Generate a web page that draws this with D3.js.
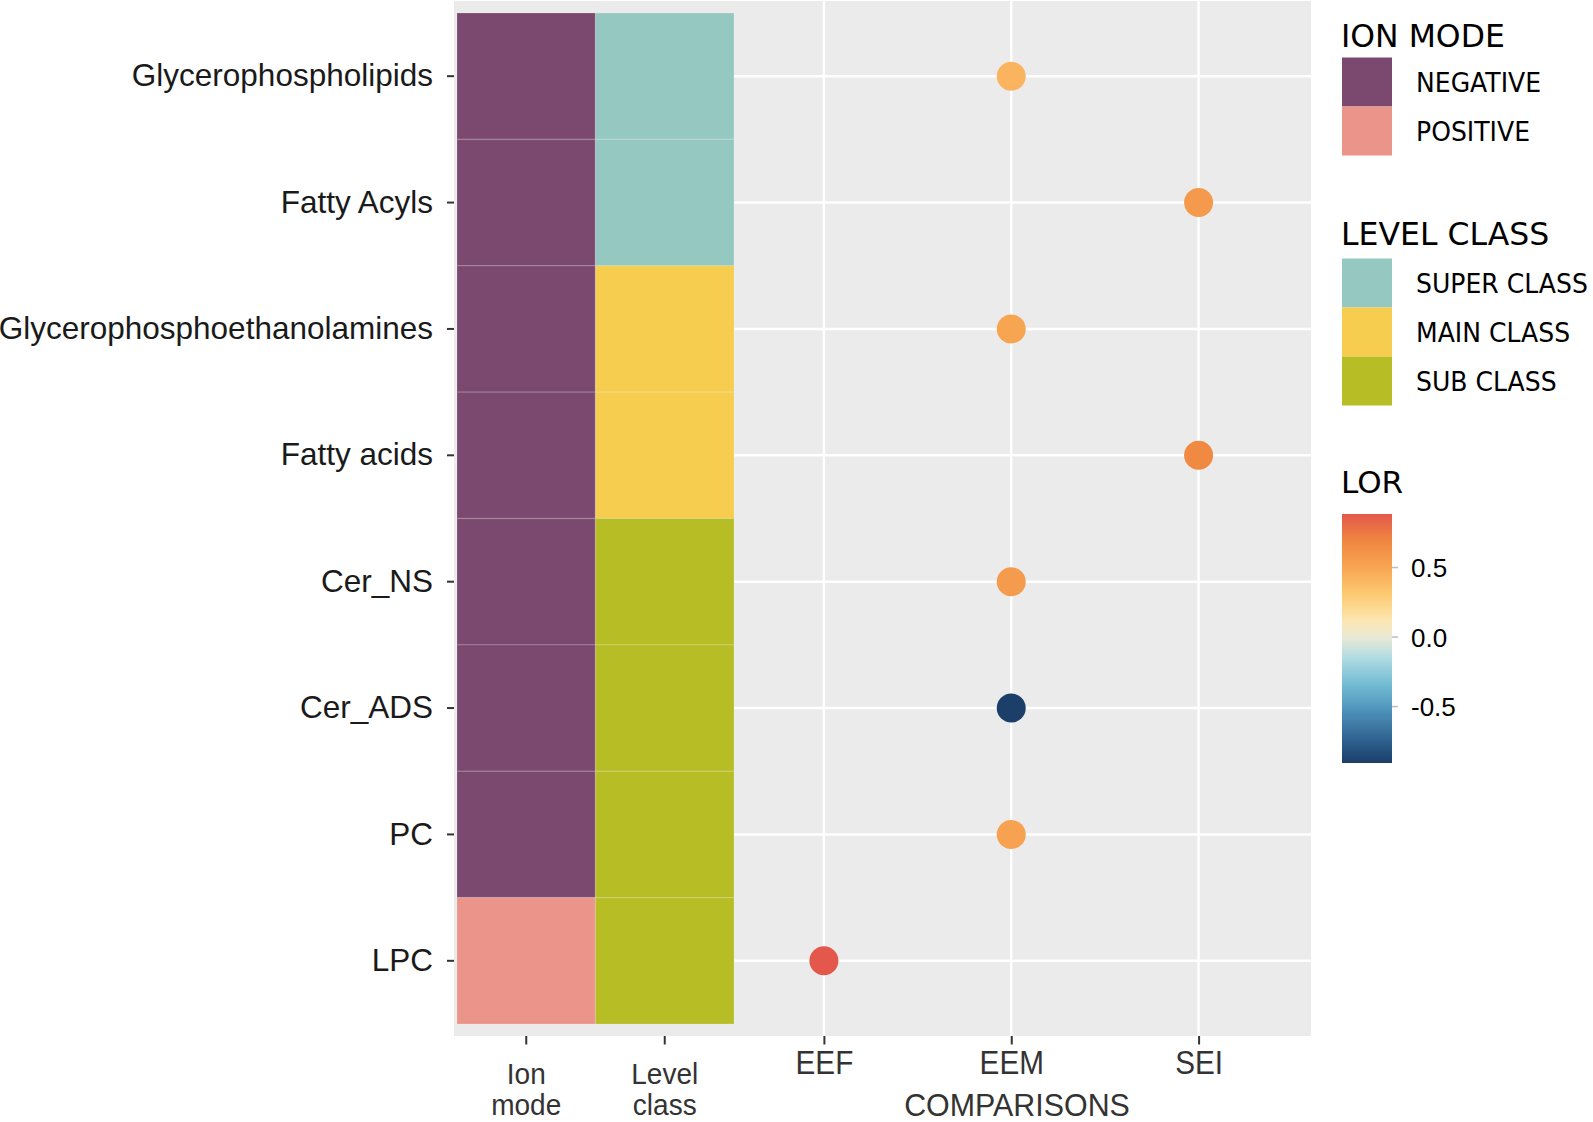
<!DOCTYPE html>
<html>
<head>
<meta charset="utf-8">
<script src="https://cdn.jsdelivr.net/npm/d3@7"></script>
<style>
  html, body { margin: 0; padding: 0; background: #ffffff; }
  svg { display: block; }
</style>
</head>
<body>
<svg id="chart" width="1593" height="1122"></svg>
<script>
// ---------------- DATA ----------------
const rows = ["Glycerophospholipids", "Fatty Acyls", "Glycerophosphoethanolamines", "Fatty acids",
              "Cer_NS", "Cer_ADS", "PC", "LPC"];
const tileColumns = ["Ion mode", "Level class"];
const ionMode = ["NEGATIVE", "NEGATIVE", "NEGATIVE", "NEGATIVE", "NEGATIVE", "NEGATIVE", "NEGATIVE", "POSITIVE"];
const levelClass = ["SUPER CLASS", "SUPER CLASS", "MAIN CLASS", "MAIN CLASS",
                    "SUB CLASS", "SUB CLASS", "SUB CLASS", "SUB CLASS"];
const comparisons = ["EEF", "EEM", "SEI"];
const dotComparison = ["EEM", "SEI", "EEM", "SEI", "EEM", "EEM", "EEM", "EEF"];
const lorValues = [0.42, 0.57, 0.50, 0.67, 0.56, -0.90, 0.52, 0.88];

const ionModeLevels = ["NEGATIVE", "POSITIVE"];
const ionModeColors = ["#7B496F", "#EA948A"];
const levelClassLevels = ["SUPER CLASS", "MAIN CLASS", "SUB CLASS"];
const levelClassColors = ["#94C8C1", "#F6CD4E", "#B7BD24"];

const lorLimits = [-0.906, 0.885];
const lorTicks = [-0.5, 0.0, 0.5];
const lorColorStops = [-0.906, -0.75, -0.55, -0.35, -0.15, 0.0, 0.12, 0.30, 0.50, 0.70, 0.885];
const lorColors = ["#1B3E69", "#2D5F8C", "#4A8DB6", "#70BAD3", "#B0DCE2", "#EBE9D6",
                   "#FCE6B0", "#FDCB73", "#F8A552", "#EF8540", "#E4574C"];

// ---------------- LAYOUT ----------------
const svg = d3.select("#chart");
const panel = { left: 454, right: 1311, top: 1, bottom: 1036 };

const y = d3.scaleBand().domain(rows).range([13, 1024]).paddingInner(0).paddingOuter(0);
const xTile = d3.scaleBand().domain(tileColumns).range([457, 734]).padding(0);
const xDot = d3.scalePoint().domain(comparisons).range([711.5, 1311]).padding(0.6);

const ionColor = d3.scaleOrdinal().domain(ionModeLevels).range(ionModeColors);
const levelColor = d3.scaleOrdinal().domain(levelClassLevels).range(levelClassColors);
const lorColor = d3.scaleLinear().domain(lorColorStops).range(lorColors)
  .interpolate(d3.interpolateRgb).clamp(true);

// Panel background
svg.append("rect")
  .attr("x", panel.left).attr("y", panel.top)
  .attr("width", panel.right - panel.left).attr("height", panel.bottom - panel.top)
  .attr("fill", "#EBEBEB");

// Grid lines (dot part)
const grid = svg.append("g");
grid.selectAll("line.h").data(rows).join("line")
  .attr("x1", xTile.range()[1]).attr("x2", panel.right)
  .attr("y1", d => y(d) + y.bandwidth() / 2).attr("y2", d => y(d) + y.bandwidth() / 2)
  .attr("stroke", "#ffffff").attr("stroke-width", 2.4);
grid.selectAll("line.v").data(comparisons).join("line")
  .attr("x1", d => xDot(d)).attr("x2", d => xDot(d))
  .attr("y1", panel.top).attr("y2", panel.bottom)
  .attr("stroke", "#ffffff").attr("stroke-width", 2.4);

// Tiles
const tileData = [];
rows.forEach((r, i) => {
  tileData.push({ row: r, col: "Ion mode", fill: ionColor(ionMode[i]) });
  tileData.push({ row: r, col: "Level class", fill: levelColor(levelClass[i]) });
});
svg.append("g").selectAll("rect").data(tileData).join("rect")
  .attr("x", d => xTile(d.col)).attr("y", d => y(d.row))
  .attr("width", xTile.bandwidth()).attr("height", y.bandwidth())
  .attr("fill", d => d.fill)
  .attr("stroke", "#ffffff").attr("stroke-opacity", 0.12).attr("stroke-width", 1.5);

// Dots
const dotData = rows.map((r, i) => ({ row: r, comp: dotComparison[i], lor: lorValues[i] }));
svg.append("g").selectAll("circle").data(dotData).join("circle")
  .attr("cx", d => xDot(d.comp))
  .attr("cy", d => y(d.row) + y.bandwidth() / 2)
  .attr("r", 14.5)
  .attr("fill", d => lorColor(d.lor));

// Y axis
const yAxis = svg.append("g").attr("transform", `translate(${panel.left},0)`)
  .call(d3.axisLeft(y).tickSize(7).tickPadding(14));
yAxis.select(".domain").remove();
yAxis.selectAll(".tick line").attr("stroke", "#333333").attr("stroke-width", 2);
yAxis.selectAll(".tick text")
  .attr("font-family", "'Liberation Sans', Arial, sans-serif")
  .attr("font-size", 31.5).attr("fill", "#1a1a1a").attr("dy", "0.32em");

// X axes (ticks)
const xAxisTile = svg.append("g").attr("transform", `translate(0,${panel.bottom})`)
  .call(d3.axisBottom(xTile).tickSize(8.5).tickFormat(""));
const xAxisDot = svg.append("g").attr("transform", `translate(0,${panel.bottom})`)
  .call(d3.axisBottom(xDot).tickSize(8.5).tickFormat(""));
[xAxisTile, xAxisDot].forEach(a => {
  a.select(".domain").remove();
  a.selectAll(".tick line").attr("stroke", "#333333").attr("stroke-width", 2);
  a.selectAll(".tick text").remove();
});

const xFont = "'Liberation Sans', Arial, sans-serif";
// Tile column labels (two lines)
xAxisTile.selectAll(".tick").each(function (d) {
  const parts = d.split(" ");
  const g = d3.select(this);
  parts.forEach((p, k) => {
    g.append("text")
      .attr("transform", `translate(0,${[47.5, 79][k]}) scale(0.95,1)`)
      .attr("text-anchor", "middle")
      .attr("font-family", xFont).attr("font-size", 29.5)
      .attr("fill", "#333333").text(p);
  });
});
xAxisDot.selectAll(".tick").each(function (d) {
  d3.select(this).append("text")
    .attr("transform", `translate(0,38) scale(0.9,1)`)
    .attr("text-anchor", "middle")
    .attr("font-family", xFont).attr("font-size", 33)
    .attr("fill", "#333333").text(d);
});

// X title
svg.append("text")
  .attr("transform", `translate(1017,1116) scale(0.95,1)`)
  .attr("text-anchor", "middle")
  .attr("font-family", xFont).attr("font-size", 32)
  .attr("fill", "#333333").text("COMPARISONS");

// ---------------- LEGENDS ----------------
const legFont = "'DejaVu Sans', sans-serif";
const legX = 1342, swW = 50, swH = 49, labX = 1416;

function discreteLegend(title, titleY, top, levels, colors) {
  const g = svg.append("g");
  g.append("text").attr("x", legX - 1).attr("y", titleY)
    .attr("font-family", legFont).attr("font-size", 31.5).attr("fill", "#000").text(title);
  levels.forEach((lv, i) => {
    const sy = top + i * swH;
    g.append("rect").attr("x", legX).attr("y", sy).attr("width", swW).attr("height", swH)
      .attr("fill", colors[i]);
    g.append("text")
      .attr("transform", `translate(${labX},${sy + swH / 2 + 10}) scale(0.93,1)`)
      .attr("font-family", legFont).attr("font-size", 27).attr("fill", "#000").text(lv);
  });
}
discreteLegend("ION MODE", 46.5, 57.5, ionModeLevels, ionModeColors);
discreteLegend("LEVEL CLASS", 245, 258.5, levelClassLevels, levelClassColors);

// Colorbar legend
svg.append("text").attr("x", legX - 1).attr("y", 493)
  .attr("font-family", legFont).attr("font-size", 31).attr("fill", "#000").text("LOR");

const barTop = 514, barBottom = 763;
const lorY = d3.scaleLinear().domain(lorLimits).range([barBottom, barTop]);
const defs = svg.append("defs");
const grad = defs.append("linearGradient").attr("id", "lorGrad")
  .attr("x1", 0).attr("y1", 1).attr("x2", 0).attr("y2", 0);
d3.range(0, 1.0001, 0.02).forEach(t => {
  const v = lorLimits[0] + t * (lorLimits[1] - lorLimits[0]);
  grad.append("stop").attr("offset", t).attr("stop-color", lorColor(v));
});
svg.append("rect").attr("x", legX).attr("y", barTop)
  .attr("width", swW).attr("height", barBottom - barTop)
  .attr("fill", "url(#lorGrad)");

const cbAxis = svg.append("g");
cbAxis.selectAll("line").data(lorTicks).join("line")
  .attr("x1", legX + swW).attr("x2", legX + swW + 6)
  .attr("y1", d => lorY(d)).attr("y2", d => lorY(d))
  .attr("stroke", "#bdbdbd").attr("stroke-width", 1.5);
cbAxis.selectAll("text").data(lorTicks).join("text")
  .attr("x", 1411).attr("y", d => lorY(d) + 9.5)
  .attr("font-family", "'Liberation Sans', Arial, sans-serif")
  .attr("font-size", 26).attr("fill", "#000")
  .text(d => d3.format(".1f")(d).replace("−", "-"));
</script>
</body>
</html>
